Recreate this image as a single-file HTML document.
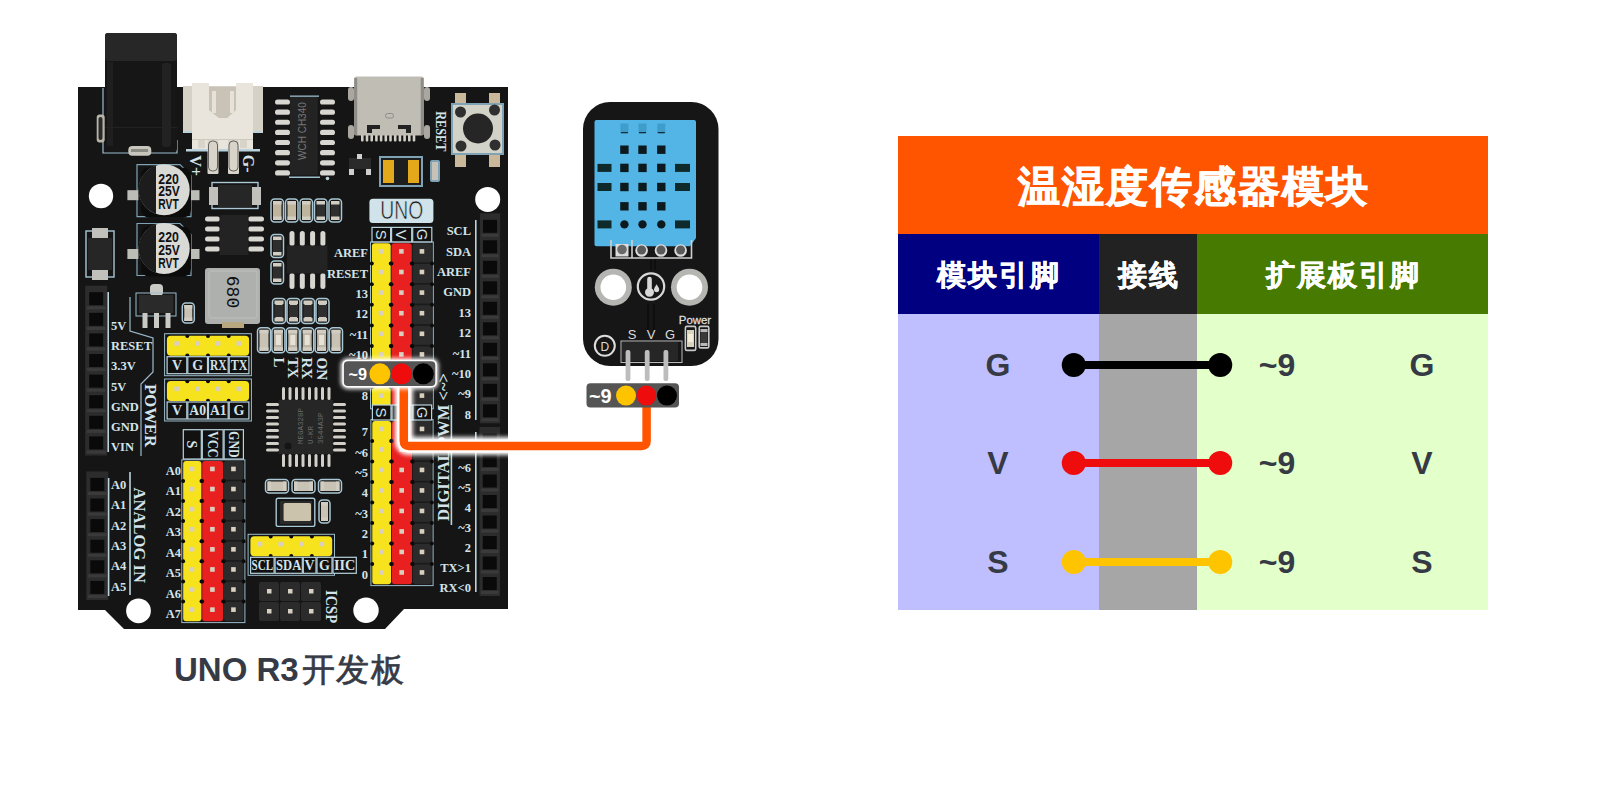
<!DOCTYPE html>
<html><head><meta charset="utf-8">
<style>
html,body{margin:0;padding:0;background:#fff;width:1601px;height:797px;overflow:hidden;font-family:"Liberation Sans",sans-serif;}
#art{position:absolute;left:0;top:0;}
.tbl{position:absolute;left:898px;top:136px;width:590px;height:474px;}
.c{position:absolute;display:flex;align-items:center;justify-content:center;}
.hd{color:#fff;font-weight:bold;}
.sh{padding-top:4px;box-sizing:border-box;-webkit-text-stroke:0.5px #fff;}
.bd{color:#363a45;font-weight:bold;font-size:30px;}
</style></head><body>
<svg id="art" width="1601" height="797" viewBox="0 0 1601 797">
<polygon points="78,87 508,87 508,609 404,609 385,629 124,629 105,610 78,610" fill="#151515"/>
<circle cx="101" cy="196" r="12.2" fill="#fff"/>
<circle cx="487.7" cy="199.4" r="12.5" fill="#fff"/>
<circle cx="138.5" cy="610.8" r="12.4" fill="#fff"/>
<circle cx="366" cy="610.2" r="12.7" fill="#fff"/>
<path d="M103,88 L103,153 L177,153 L177,140" fill="none" stroke="#9cbccb" stroke-width="1.2"/>
<rect x="96.7" y="114.6" width="8" height="28" rx="3" fill="#b8b5a8"/>
<rect x="98.5" y="117" width="4" height="23" rx="2" fill="#2a2a2a"/>
<rect x="105" y="33" width="72" height="118.5" rx="3" fill="#161616"/>
<rect x="105" y="33" width="72" height="28" rx="3" fill="#272727"/>
<rect x="107" y="62" width="6" height="84" fill="#1f1f1f"/>
<rect x="162" y="63" width="9" height="84" rx="3" fill="#222"/>
<rect x="105" y="127" width="72" height="1" fill="#222"/>
<rect x="128.3" y="146" width="23" height="9.8" rx="4" fill="#c8c6bd"/>
<rect x="131" y="149" width="17" height="3" fill="#8a8a85"/>
<rect x="183" y="86" width="80" height="47" fill="#d6d1c6"/>
<rect x="184" y="131" width="78" height="2" fill="#b9d3de"/>
<path d="M192,83 L209,83 L209,110 L219,118 L227,118 L236,110 L236,83 L253,83 L253,149 L192,149 Z" fill="#e9e5dd"/>
<path d="M209,87 L236,87 L236,110 L227,118 L219,118 L209,110 Z" fill="#c9c3b7"/>
<rect x="212" y="91" width="4" height="22" fill="#e6e2d8"/>
<rect x="230" y="91" width="4" height="22" fill="#e6e2d8"/>
<rect x="192" y="139" width="61" height="1" fill="#cfc9bd"/>
<rect x="198" y="140" width="7" height="8" fill="#d9d4ca"/>
<rect x="240" y="140" width="7" height="8" fill="#d9d4ca"/>
<text x="195.8" y="171.5" text-anchor="middle" font-family="Liberation Serif" font-weight="bold" font-size="16" fill="#d3e3ea" transform="rotate(90 195.8 165.7)">V+</text>
<text x="248.9" y="169.5" text-anchor="middle" font-family="Liberation Serif" font-weight="bold" font-size="16" fill="#d3e3ea" transform="rotate(90 248.9 163.7)">G-</text>
<rect x="186" y="149" width="74" height="2.5" fill="#b9d3de"/>
<rect x="207.5" y="140" width="11" height="34" rx="1" fill="#d9d4ca"/>
<rect x="228" y="140" width="11" height="34" rx="1" fill="#d9d4ca"/>
<rect x="208.5" y="141" width="9" height="30" rx="4" fill="none" stroke="#444" stroke-width="0.8"/>
<rect x="229" y="141" width="9" height="30" rx="4" fill="none" stroke="#444" stroke-width="0.8"/>
<rect x="275" y="99.4" width="15" height="5.2" rx="2.6" fill="#d8d6d0"/>
<rect x="320" y="99.4" width="15" height="5.2" rx="2.6" fill="#d8d6d0"/>
<rect x="275" y="109.53" width="15" height="5.2" rx="2.6" fill="#d8d6d0"/>
<rect x="320" y="109.53" width="15" height="5.2" rx="2.6" fill="#d8d6d0"/>
<rect x="275" y="119.66000000000001" width="15" height="5.2" rx="2.6" fill="#d8d6d0"/>
<rect x="320" y="119.66000000000001" width="15" height="5.2" rx="2.6" fill="#d8d6d0"/>
<rect x="275" y="129.79" width="15" height="5.2" rx="2.6" fill="#d8d6d0"/>
<rect x="320" y="129.79" width="15" height="5.2" rx="2.6" fill="#d8d6d0"/>
<rect x="275" y="139.92000000000002" width="15" height="5.2" rx="2.6" fill="#d8d6d0"/>
<rect x="320" y="139.92000000000002" width="15" height="5.2" rx="2.6" fill="#d8d6d0"/>
<rect x="275" y="150.05" width="15" height="5.2" rx="2.6" fill="#d8d6d0"/>
<rect x="320" y="150.05" width="15" height="5.2" rx="2.6" fill="#d8d6d0"/>
<rect x="275" y="160.18" width="15" height="5.2" rx="2.6" fill="#d8d6d0"/>
<rect x="320" y="160.18" width="15" height="5.2" rx="2.6" fill="#d8d6d0"/>
<rect x="275" y="170.31000000000003" width="15" height="5.2" rx="2.6" fill="#d8d6d0"/>
<rect x="320" y="170.31000000000003" width="15" height="5.2" rx="2.6" fill="#d8d6d0"/>
<rect x="290" y="97" width="27.7" height="78.3" fill="#232323"/>
<rect x="290" y="95.5" width="29" height="1.3" fill="#9cbccb"/>
<rect x="289" y="176.5" width="31" height="1.5" fill="#9cbccb"/>
<circle cx="327.5" cy="178.5" r="1.8" fill="#b9d3de"/>
<text x="306" y="160" font-family="Liberation Sans" font-size="10" fill="#777" transform="rotate(-90 306 160)">WCH CH340</text>
<rect x="348" y="87" width="6" height="14" rx="3" fill="#a9a7a0"/>
<rect x="424" y="87" width="6" height="14" rx="3" fill="#a9a7a0"/>
<rect x="348" y="125" width="6" height="14" rx="3" fill="#a9a7a0"/>
<rect x="424" y="125" width="6" height="14" rx="3" fill="#a9a7a0"/>
<rect x="361.0" y="134" width="2.6" height="7.5" rx="1" fill="#d2cfc6"/>
<rect x="365.7" y="134" width="2.6" height="7.5" rx="1" fill="#d2cfc6"/>
<rect x="370.4" y="134" width="2.6" height="7.5" rx="1" fill="#d2cfc6"/>
<rect x="375.1" y="134" width="2.6" height="7.5" rx="1" fill="#d2cfc6"/>
<rect x="379.8" y="134" width="2.6" height="7.5" rx="1" fill="#d2cfc6"/>
<rect x="384.5" y="134" width="2.6" height="7.5" rx="1" fill="#d2cfc6"/>
<rect x="389.2" y="134" width="2.6" height="7.5" rx="1" fill="#d2cfc6"/>
<rect x="393.9" y="134" width="2.6" height="7.5" rx="1" fill="#d2cfc6"/>
<rect x="398.6" y="134" width="2.6" height="7.5" rx="1" fill="#d2cfc6"/>
<rect x="403.3" y="134" width="2.6" height="7.5" rx="1" fill="#d2cfc6"/>
<rect x="408.0" y="134" width="2.6" height="7.5" rx="1" fill="#d2cfc6"/>
<rect x="412.7" y="134" width="2.6" height="7.5" rx="1" fill="#d2cfc6"/>
<rect x="354.2" y="76.5" width="69.5" height="59" rx="2" fill="#c0bdb5"/>
<rect x="354.2" y="78" width="3" height="57" fill="#8f8d88"/>
<rect x="420.7" y="78" width="3" height="57" fill="#8f8d88"/>
<path d="M367,125 L380,125 L380,129 L372,129 L372,133 L367,133 Z" fill="#222"/>
<path d="M398,125 L411,125 L411,133 L406,133 L406,129 L398,129 Z" fill="#222"/>
<rect x="385.5" y="113.5" width="8" height="4.5" rx="2" fill="none" stroke="#8f8d88" stroke-width="1"/>
<rect x="455" y="93" width="11" height="12" fill="#c9b89a"/>
<rect x="455" y="153" width="11" height="14" fill="#c9b89a"/>
<rect x="489" y="93" width="11" height="12" fill="#c9b89a"/>
<rect x="489" y="153" width="11" height="14" fill="#c9b89a"/>
<rect x="451" y="103" width="53" height="52" fill="#7fa3b5"/>
<rect x="453" y="105" width="49" height="48" fill="#d2d2c8"/>
<circle cx="478" cy="128.5" r="15" fill="#262626"/>
<circle cx="460.5" cy="112" r="5.5" fill="#2f2f2f"/>
<circle cx="494.5" cy="110" r="5.5" fill="#2f2f2f"/>
<circle cx="461" cy="146" r="5.5" fill="#2f2f2f"/>
<circle cx="495" cy="145" r="5.5" fill="#2f2f2f"/>
<text x="436.3" y="111.3" font-family="Liberation Serif" font-weight="bold" font-size="15" fill="#d3e3ea" transform="rotate(90 436.3 111.3)" textLength="40" lengthAdjust="spacingAndGlyphs">RESET</text>
<rect x="379" y="156" width="44" height="31" fill="#7fa3b5"/>
<rect x="381" y="158" width="40" height="27" fill="#1e1e1e"/>
<rect x="383" y="160" width="11" height="23" fill="#e3a91a"/>
<rect x="408" y="160" width="11" height="23" fill="#e3a91a"/>
<rect x="349" y="158" width="22" height="11" fill="#2a2a2a"/>
<rect x="357" y="154" width="5" height="5" fill="#cfcfcf"/>
<rect x="349" y="169" width="5" height="6" fill="#cfcfcf"/>
<rect x="366" y="169" width="5" height="6" fill="#cfcfcf"/>
<rect x="430" y="160" width="10" height="22" rx="2" fill="#7fa3b5"/>
<rect x="432" y="162" width="6" height="18" fill="#c6c2b8"/>
<path d="M137,164.7 L180,164.7 L191,175.7 L191,216.7 L137,216.7 Z" fill="none" stroke="#7fa3b5" stroke-width="1.2"/>
<rect x="127.4" y="190.2" width="11" height="10" fill="#bdbdb8"/>
<rect x="190" y="190.2" width="9.5" height="10" fill="#bdbdb8"/>
<rect x="141" y="167.7" width="50" height="50" rx="8" fill="#0c0c0c"/>
<circle cx="164.2" cy="189.7" r="25.5" fill="#d9d9d6"/>
<path d="M156,165.5 A25.5,25.5 0 0,0 156,213.89999999999998 Z" fill="#1c1c1c"/>
<text x="158.3" y="183.6" font-family="Liberation Sans" font-weight="bold" font-size="13.9" fill="#111" textLength="20.5" lengthAdjust="spacingAndGlyphs">220</text>
<text x="158.3" y="196.29999999999998" font-family="Liberation Sans" font-weight="bold" font-size="13.9" fill="#111" textLength="21.5" lengthAdjust="spacingAndGlyphs">25V</text>
<text x="158.3" y="209.0" font-family="Liberation Sans" font-weight="bold" font-size="13.9" fill="#111" textLength="20.5" lengthAdjust="spacingAndGlyphs">RVT</text>
<path d="M137,223.5 L180,223.5 L191,234.5 L191,275.5 L137,275.5 Z" fill="none" stroke="#7fa3b5" stroke-width="1.2"/>
<rect x="127.4" y="249.0" width="11" height="10" fill="#bdbdb8"/>
<rect x="190" y="249.0" width="9.5" height="10" fill="#bdbdb8"/>
<rect x="141" y="226.5" width="50" height="50" rx="8" fill="#0c0c0c"/>
<circle cx="164.2" cy="248.5" r="25.5" fill="#d9d9d6"/>
<path d="M156,224.3 A25.5,25.5 0 0,0 156,272.7 Z" fill="#1c1c1c"/>
<text x="158.3" y="242.4" font-family="Liberation Sans" font-weight="bold" font-size="13.9" fill="#111" textLength="20.5" lengthAdjust="spacingAndGlyphs">220</text>
<text x="158.3" y="255.1" font-family="Liberation Sans" font-weight="bold" font-size="13.9" fill="#111" textLength="21.5" lengthAdjust="spacingAndGlyphs">25V</text>
<text x="158.3" y="267.8" font-family="Liberation Sans" font-weight="bold" font-size="13.9" fill="#111" textLength="20.5" lengthAdjust="spacingAndGlyphs">RVT</text>
<rect x="212" y="182.5" width="46" height="26" fill="none" stroke="#a9c7d4" stroke-width="1.4"/>
<rect x="209" y="187" width="52" height="18" fill="#c2c0ba"/>
<rect x="218" y="185" width="34" height="22" fill="#262626"/>
<rect x="86" y="231" width="28" height="46" fill="none" stroke="#a9c7d4" stroke-width="1.4"/>
<rect x="92" y="228" width="16" height="52" fill="#c2c0ba"/>
<rect x="88" y="238" width="24" height="32" fill="#262626"/>
<rect x="205" y="216.5" width="15" height="5" rx="2.5" fill="#d8d6d0"/>
<rect x="248" y="216.5" width="16" height="5" rx="2.5" fill="#d8d6d0"/>
<rect x="205" y="226.5" width="15" height="5" rx="2.5" fill="#d8d6d0"/>
<rect x="248" y="226.5" width="16" height="5" rx="2.5" fill="#d8d6d0"/>
<rect x="205" y="236.5" width="15" height="5" rx="2.5" fill="#d8d6d0"/>
<rect x="248" y="236.5" width="16" height="5" rx="2.5" fill="#d8d6d0"/>
<rect x="205" y="246.5" width="15" height="5" rx="2.5" fill="#d8d6d0"/>
<rect x="248" y="246.5" width="16" height="5" rx="2.5" fill="#d8d6d0"/>
<rect x="219.5" y="215" width="29" height="40" fill="#232323"/>
<rect x="289.5" y="231" width="5" height="15" rx="2.5" fill="#d8d6d0"/>
<rect x="289.5" y="273" width="5" height="16" rx="2.5" fill="#d8d6d0"/>
<rect x="299.8" y="231" width="5" height="15" rx="2.5" fill="#d8d6d0"/>
<rect x="299.8" y="273" width="5" height="16" rx="2.5" fill="#d8d6d0"/>
<rect x="310.1" y="231" width="5" height="15" rx="2.5" fill="#d8d6d0"/>
<rect x="310.1" y="273" width="5" height="16" rx="2.5" fill="#d8d6d0"/>
<rect x="320.4" y="231" width="5" height="15" rx="2.5" fill="#d8d6d0"/>
<rect x="320.4" y="273" width="5" height="16" rx="2.5" fill="#d8d6d0"/>
<rect x="287" y="245.5" width="40.5" height="28" fill="#232323"/>
<rect x="271.0" y="199" width="12.5" height="23" rx="3.5" fill="none" stroke="#a9c7d4" stroke-width="1.5"/>
<rect x="273.0" y="201" width="8.5" height="19" fill="#bfb49c"/>
<rect x="273.0" y="201" width="8.5" height="3.5" fill="#d2cdc2"/>
<rect x="273.0" y="216.5" width="8.5" height="3.5" fill="#d2cdc2"/>
<rect x="285.5" y="199" width="12.5" height="23" rx="3.5" fill="none" stroke="#a9c7d4" stroke-width="1.5"/>
<rect x="287.5" y="201" width="8.5" height="19" fill="#bfb49c"/>
<rect x="287.5" y="201" width="8.5" height="3.5" fill="#d2cdc2"/>
<rect x="287.5" y="216.5" width="8.5" height="3.5" fill="#d2cdc2"/>
<rect x="300.0" y="199" width="12.5" height="23" rx="3.5" fill="none" stroke="#a9c7d4" stroke-width="1.5"/>
<rect x="302.0" y="201" width="8.5" height="19" fill="#bfb49c"/>
<rect x="302.0" y="201" width="8.5" height="3.5" fill="#d2cdc2"/>
<rect x="302.0" y="216.5" width="8.5" height="3.5" fill="#d2cdc2"/>
<rect x="314.5" y="199" width="12.5" height="23" rx="3.5" fill="none" stroke="#a9c7d4" stroke-width="1.5"/>
<rect x="316.5" y="201" width="8.5" height="19" fill="#2e2e2e"/>
<rect x="316.5" y="201" width="8.5" height="3.5" fill="#d2cdc2"/>
<rect x="316.5" y="216.5" width="8.5" height="3.5" fill="#d2cdc2"/>
<rect x="329.0" y="199" width="12.5" height="23" rx="3.5" fill="none" stroke="#a9c7d4" stroke-width="1.5"/>
<rect x="331.0" y="201" width="8.5" height="19" fill="#2e2e2e"/>
<rect x="331.0" y="201" width="8.5" height="3.5" fill="#d2cdc2"/>
<rect x="331.0" y="216.5" width="8.5" height="3.5" fill="#d2cdc2"/>
<rect x="271" y="234.5" width="12.5" height="23" rx="3.5" fill="none" stroke="#a9c7d4" stroke-width="1.5"/>
<rect x="273" y="236.5" width="8.5" height="19" fill="#2e2e2e"/>
<rect x="273" y="236.5" width="8.5" height="3.5" fill="#d2cdc2"/>
<rect x="273" y="252.0" width="8.5" height="3.5" fill="#d2cdc2"/>
<rect x="271" y="261" width="12.5" height="23" rx="3.5" fill="none" stroke="#a9c7d4" stroke-width="1.5"/>
<rect x="273" y="263" width="8.5" height="19" fill="#2e2e2e"/>
<rect x="273" y="263" width="8.5" height="3.5" fill="#d2cdc2"/>
<rect x="273" y="278.5" width="8.5" height="3.5" fill="#d2cdc2"/>
<rect x="272.5" y="298.5" width="13" height="25" rx="3.5" fill="none" stroke="#a9c7d4" stroke-width="1.5"/>
<rect x="274.5" y="300.5" width="9" height="21" fill="#2e2e2e"/>
<rect x="274.5" y="300.5" width="9" height="3.5" fill="#d2cdc2"/>
<rect x="274.5" y="318.0" width="9" height="3.5" fill="#d2cdc2"/>
<rect x="275.5" y="301.5" width="7" height="3.5" fill="#cfcabd"/>
<rect x="275.5" y="317" width="7" height="3.5" fill="#cfcabd"/>
<rect x="287.0" y="298.5" width="13" height="25" rx="3.5" fill="none" stroke="#a9c7d4" stroke-width="1.5"/>
<rect x="289.0" y="300.5" width="9" height="21" fill="#2e2e2e"/>
<rect x="289.0" y="300.5" width="9" height="3.5" fill="#d2cdc2"/>
<rect x="289.0" y="318.0" width="9" height="3.5" fill="#d2cdc2"/>
<rect x="290.0" y="301.5" width="7" height="3.5" fill="#cfcabd"/>
<rect x="290.0" y="317" width="7" height="3.5" fill="#cfcabd"/>
<rect x="301.5" y="298.5" width="13" height="25" rx="3.5" fill="none" stroke="#a9c7d4" stroke-width="1.5"/>
<rect x="303.5" y="300.5" width="9" height="21" fill="#2e2e2e"/>
<rect x="303.5" y="300.5" width="9" height="3.5" fill="#d2cdc2"/>
<rect x="303.5" y="318.0" width="9" height="3.5" fill="#d2cdc2"/>
<rect x="304.5" y="301.5" width="7" height="3.5" fill="#cfcabd"/>
<rect x="304.5" y="317" width="7" height="3.5" fill="#cfcabd"/>
<rect x="316.0" y="298.5" width="13" height="25" rx="3.5" fill="none" stroke="#a9c7d4" stroke-width="1.5"/>
<rect x="318.0" y="300.5" width="9" height="21" fill="#2e2e2e"/>
<rect x="318.0" y="300.5" width="9" height="3.5" fill="#d2cdc2"/>
<rect x="318.0" y="318.0" width="9" height="3.5" fill="#d2cdc2"/>
<rect x="319.0" y="301.5" width="7" height="3.5" fill="#cfcabd"/>
<rect x="319.0" y="317" width="7" height="3.5" fill="#cfcabd"/>
<rect x="257.5" y="327.8" width="13" height="25" rx="3.5" fill="none" stroke="#a9c7d4" stroke-width="1.5"/>
<rect x="259.5" y="329.8" width="9" height="21" fill="#c9c3b5"/>
<rect x="259.5" y="329.8" width="9" height="3.5" fill="#d2cdc2"/>
<rect x="259.5" y="347.3" width="9" height="3.5" fill="#d2cdc2"/>
<rect x="271.9" y="327.8" width="13" height="25" rx="3.5" fill="none" stroke="#a9c7d4" stroke-width="1.5"/>
<rect x="273.9" y="329.8" width="9" height="21" fill="#bdb6a6"/>
<rect x="273.9" y="329.8" width="9" height="3.5" fill="#d2cdc2"/>
<rect x="273.9" y="347.3" width="9" height="3.5" fill="#d2cdc2"/>
<rect x="275.9" y="335" width="5" height="10" fill="#e8e2d6"/>
<rect x="286.3" y="327.8" width="13" height="25" rx="3.5" fill="none" stroke="#a9c7d4" stroke-width="1.5"/>
<rect x="288.3" y="329.8" width="9" height="21" fill="#bdb6a6"/>
<rect x="288.3" y="329.8" width="9" height="3.5" fill="#d2cdc2"/>
<rect x="288.3" y="347.3" width="9" height="3.5" fill="#d2cdc2"/>
<rect x="290.3" y="335" width="5" height="10" fill="#e8e2d6"/>
<rect x="300.7" y="327.8" width="13" height="25" rx="3.5" fill="none" stroke="#a9c7d4" stroke-width="1.5"/>
<rect x="302.7" y="329.8" width="9" height="21" fill="#bdb6a6"/>
<rect x="302.7" y="329.8" width="9" height="3.5" fill="#d2cdc2"/>
<rect x="302.7" y="347.3" width="9" height="3.5" fill="#d2cdc2"/>
<rect x="304.7" y="335" width="5" height="10" fill="#e8e2d6"/>
<rect x="315.1" y="327.8" width="13" height="25" rx="3.5" fill="none" stroke="#a9c7d4" stroke-width="1.5"/>
<rect x="317.1" y="329.8" width="9" height="21" fill="#bdb6a6"/>
<rect x="317.1" y="329.8" width="9" height="3.5" fill="#d2cdc2"/>
<rect x="317.1" y="347.3" width="9" height="3.5" fill="#d2cdc2"/>
<rect x="319.1" y="335" width="5" height="10" fill="#e8e2d6"/>
<rect x="329.5" y="327.8" width="13" height="25" rx="3.5" fill="none" stroke="#a9c7d4" stroke-width="1.5"/>
<rect x="331.5" y="329.8" width="9" height="21" fill="#c9c3b5"/>
<rect x="331.5" y="329.8" width="9" height="3.5" fill="#d2cdc2"/>
<rect x="331.5" y="347.3" width="9" height="3.5" fill="#d2cdc2"/>
<text x="278.5" y="357.5" font-family="Liberation Serif" font-weight="bold" font-size="15" fill="#d3e3ea" transform="rotate(90 278.5 357.5) translate(0,5)">L</text>
<text x="292.9" y="357.5" font-family="Liberation Serif" font-weight="bold" font-size="15" fill="#d3e3ea" transform="rotate(90 292.9 357.5) translate(0,5)">TX</text>
<text x="307.3" y="357.5" font-family="Liberation Serif" font-weight="bold" font-size="15" fill="#d3e3ea" transform="rotate(90 307.3 357.5) translate(0,5)">RX</text>
<text x="321.7" y="357.5" font-family="Liberation Serif" font-weight="bold" font-size="15" fill="#d3e3ea" transform="rotate(90 321.7 357.5) translate(0,5)">ON</text>
<rect x="150" y="284" width="13" height="12" rx="4" fill="#c9c9c5"/>
<rect x="136" y="293" width="40" height="23" fill="none" stroke="#9cbccb" stroke-width="1"/>
<rect x="139" y="295" width="34.3" height="18.2" fill="#2a2a2a"/>
<rect x="142.5" y="313" width="5" height="15" fill="#c9c9c5"/>
<rect x="154" y="313" width="5" height="15" fill="#c9c9c5"/>
<rect x="165.5" y="313" width="5" height="15" fill="#c9c9c5"/>
<rect x="182.3" y="303" width="12" height="20" rx="3.5" fill="none" stroke="#a9c7d4" stroke-width="1.5"/>
<rect x="184.3" y="305" width="8" height="16" fill="#c9c3b5"/>
<rect x="184.3" y="305" width="8" height="3.5" fill="#d2cdc2"/>
<rect x="184.3" y="317.5" width="8" height="3.5" fill="#d2cdc2"/>
<path d="M130,297 L130,331 L153,338 L153,372 L141,384 L141,456" fill="none" stroke="#9cbccb" stroke-width="1.2"/>
<rect x="205" y="268" width="55" height="56" rx="3" fill="#adb0ad"/>
<rect x="222" y="322" width="22" height="6" fill="#b8a77f"/>
<rect x="209" y="271" width="48" height="47" rx="2" fill="none" stroke="#bdc0bd" stroke-width="1"/>
<text x="232.5" y="298" text-anchor="middle" font-family="Liberation Mono" font-size="18" fill="#111" transform="rotate(90 232.5 292)">680</text>
<rect x="369.4" y="198.7" width="64" height="24.4" rx="3.5" fill="#d0e3ea"/>
<text x="380.3" y="219.3" font-family="Liberation Sans" font-size="25" fill="#1a1a1a" textLength="43" lengthAdjust="spacingAndGlyphs" stroke="#d0e3ea" stroke-width="0.6">UNO</text>
<rect x="370.5" y="242" width="62.800000000000004" height="166.8" fill="none" stroke="#9cbccb" stroke-width="1"/>
<rect x="371.9" y="243.3" width="18.8" height="164.20000000000002" rx="3" fill="#f6e31d"/>
<circle cx="371.8" cy="263.6" r="2" fill="#0a0a0a"/>
<circle cx="390.8" cy="263.6" r="2" fill="#0a0a0a"/>
<circle cx="371.8" cy="284.2" r="2" fill="#0a0a0a"/>
<circle cx="390.8" cy="284.2" r="2" fill="#0a0a0a"/>
<circle cx="371.8" cy="304.8" r="2" fill="#0a0a0a"/>
<circle cx="390.8" cy="304.8" r="2" fill="#0a0a0a"/>
<circle cx="371.8" cy="325.4" r="2" fill="#0a0a0a"/>
<circle cx="390.8" cy="325.4" r="2" fill="#0a0a0a"/>
<circle cx="371.8" cy="346.0" r="2" fill="#0a0a0a"/>
<circle cx="390.8" cy="346.0" r="2" fill="#0a0a0a"/>
<circle cx="371.8" cy="366.6" r="2" fill="#0a0a0a"/>
<circle cx="390.8" cy="366.6" r="2" fill="#0a0a0a"/>
<circle cx="371.8" cy="387.20000000000005" r="2" fill="#0a0a0a"/>
<circle cx="390.8" cy="387.20000000000005" r="2" fill="#0a0a0a"/>
<rect x="378.7" y="249.10000000000002" width="4.6" height="4.6" fill="#d9cfbe"/>
<rect x="378.7" y="269.70000000000005" width="4.6" height="4.6" fill="#d9cfbe"/>
<rect x="378.7" y="290.3" width="4.6" height="4.6" fill="#d9cfbe"/>
<rect x="378.7" y="310.90000000000003" width="4.6" height="4.6" fill="#d9cfbe"/>
<rect x="378.7" y="331.5" width="4.6" height="4.6" fill="#d9cfbe"/>
<rect x="378.7" y="352.1" width="4.6" height="4.6" fill="#d9cfbe"/>
<rect x="378.7" y="372.70000000000005" width="4.6" height="4.6" fill="#d9cfbe"/>
<rect x="378.7" y="393.30000000000007" width="4.6" height="4.6" fill="#d9cfbe"/>
<rect x="391.5" y="243.3" width="20.3" height="164.20000000000002" rx="3" fill="#e8201f"/>
<circle cx="391.40000000000003" cy="263.6" r="2" fill="#0a0a0a"/>
<circle cx="411.90000000000003" cy="263.6" r="2" fill="#0a0a0a"/>
<circle cx="391.40000000000003" cy="284.2" r="2" fill="#0a0a0a"/>
<circle cx="411.90000000000003" cy="284.2" r="2" fill="#0a0a0a"/>
<circle cx="391.40000000000003" cy="304.8" r="2" fill="#0a0a0a"/>
<circle cx="411.90000000000003" cy="304.8" r="2" fill="#0a0a0a"/>
<circle cx="391.40000000000003" cy="325.4" r="2" fill="#0a0a0a"/>
<circle cx="411.90000000000003" cy="325.4" r="2" fill="#0a0a0a"/>
<circle cx="391.40000000000003" cy="346.0" r="2" fill="#0a0a0a"/>
<circle cx="411.90000000000003" cy="346.0" r="2" fill="#0a0a0a"/>
<circle cx="391.40000000000003" cy="366.6" r="2" fill="#0a0a0a"/>
<circle cx="411.90000000000003" cy="366.6" r="2" fill="#0a0a0a"/>
<circle cx="391.40000000000003" cy="387.20000000000005" r="2" fill="#0a0a0a"/>
<circle cx="411.90000000000003" cy="387.20000000000005" r="2" fill="#0a0a0a"/>
<rect x="399.05" y="249.10000000000002" width="4.6" height="4.6" fill="#d9cfbe"/>
<rect x="399.05" y="269.70000000000005" width="4.6" height="4.6" fill="#d9cfbe"/>
<rect x="399.05" y="290.3" width="4.6" height="4.6" fill="#d9cfbe"/>
<rect x="399.05" y="310.90000000000003" width="4.6" height="4.6" fill="#d9cfbe"/>
<rect x="399.05" y="331.5" width="4.6" height="4.6" fill="#d9cfbe"/>
<rect x="399.05" y="352.1" width="4.6" height="4.6" fill="#d9cfbe"/>
<rect x="399.05" y="372.70000000000005" width="4.6" height="4.6" fill="#d9cfbe"/>
<rect x="399.05" y="393.30000000000007" width="4.6" height="4.6" fill="#d9cfbe"/>
<rect x="412.6" y="243.3" width="19.3" height="164.20000000000002" rx="3" fill="#2b2b2b"/>
<circle cx="412.50000000000006" cy="263.6" r="2" fill="#0a0a0a"/>
<circle cx="432.00000000000006" cy="263.6" r="2" fill="#0a0a0a"/>
<rect x="414.20000000000005" y="262.40000000000003" width="16.1" height="1.6" fill="#1a1a1a"/>
<circle cx="412.50000000000006" cy="284.2" r="2" fill="#0a0a0a"/>
<circle cx="432.00000000000006" cy="284.2" r="2" fill="#0a0a0a"/>
<rect x="414.20000000000005" y="283.0" width="16.1" height="1.6" fill="#1a1a1a"/>
<circle cx="412.50000000000006" cy="304.8" r="2" fill="#0a0a0a"/>
<circle cx="432.00000000000006" cy="304.8" r="2" fill="#0a0a0a"/>
<rect x="414.20000000000005" y="303.6" width="16.1" height="1.6" fill="#1a1a1a"/>
<circle cx="412.50000000000006" cy="325.4" r="2" fill="#0a0a0a"/>
<circle cx="432.00000000000006" cy="325.4" r="2" fill="#0a0a0a"/>
<rect x="414.20000000000005" y="324.2" width="16.1" height="1.6" fill="#1a1a1a"/>
<circle cx="412.50000000000006" cy="346.0" r="2" fill="#0a0a0a"/>
<circle cx="432.00000000000006" cy="346.0" r="2" fill="#0a0a0a"/>
<rect x="414.20000000000005" y="344.8" width="16.1" height="1.6" fill="#1a1a1a"/>
<circle cx="412.50000000000006" cy="366.6" r="2" fill="#0a0a0a"/>
<circle cx="432.00000000000006" cy="366.6" r="2" fill="#0a0a0a"/>
<rect x="414.20000000000005" y="365.40000000000003" width="16.1" height="1.6" fill="#1a1a1a"/>
<circle cx="412.50000000000006" cy="387.20000000000005" r="2" fill="#0a0a0a"/>
<circle cx="432.00000000000006" cy="387.20000000000005" r="2" fill="#0a0a0a"/>
<rect x="414.20000000000005" y="386.00000000000006" width="16.1" height="1.6" fill="#1a1a1a"/>
<rect x="419.65000000000003" y="249.10000000000002" width="4.6" height="4.6" fill="#d9cfbe"/>
<rect x="419.65000000000003" y="269.70000000000005" width="4.6" height="4.6" fill="#d9cfbe"/>
<rect x="419.65000000000003" y="290.3" width="4.6" height="4.6" fill="#d9cfbe"/>
<rect x="419.65000000000003" y="310.90000000000003" width="4.6" height="4.6" fill="#d9cfbe"/>
<rect x="419.65000000000003" y="331.5" width="4.6" height="4.6" fill="#d9cfbe"/>
<rect x="419.65000000000003" y="352.1" width="4.6" height="4.6" fill="#d9cfbe"/>
<rect x="419.65000000000003" y="372.70000000000005" width="4.6" height="4.6" fill="#d9cfbe"/>
<rect x="419.65000000000003" y="393.30000000000007" width="4.6" height="4.6" fill="#d9cfbe"/>
<rect x="372.0" y="227.4" width="18.6" height="14.5" fill="#111" stroke="#b9d3de" stroke-width="1.2"/>
<text x="381.3" y="240.05" text-anchor="middle" font-family="Liberation Sans" font-size="15" fill="#d3e3ea" transform="rotate(90 381.3 234.65)">S</text>
<rect x="391.6" y="227.4" width="20.1" height="14.5" fill="#111" stroke="#b9d3de" stroke-width="1.2"/>
<text x="401.65000000000003" y="240.05" text-anchor="middle" font-family="Liberation Sans" font-size="15" fill="#d3e3ea" transform="rotate(90 401.65000000000003 234.65)">V</text>
<rect x="412.70000000000005" y="227.4" width="19.1" height="14.5" fill="#111" stroke="#b9d3de" stroke-width="1.2"/>
<text x="422.25000000000006" y="240.05" text-anchor="middle" font-family="Liberation Sans" font-size="15" fill="#d3e3ea" transform="rotate(90 422.25000000000006 234.65)">G</text>
<rect x="370.9" y="419.6" width="62.2" height="166.0" fill="none" stroke="#9cbccb" stroke-width="1"/>
<rect x="372.29999999999995" y="420.90000000000003" width="18.8" height="163.4" rx="3" fill="#f6e31d"/>
<circle cx="372.2" cy="441.1" r="2" fill="#0a0a0a"/>
<circle cx="391.2" cy="441.1" r="2" fill="#0a0a0a"/>
<circle cx="372.2" cy="461.6" r="2" fill="#0a0a0a"/>
<circle cx="391.2" cy="461.6" r="2" fill="#0a0a0a"/>
<circle cx="372.2" cy="482.1" r="2" fill="#0a0a0a"/>
<circle cx="391.2" cy="482.1" r="2" fill="#0a0a0a"/>
<circle cx="372.2" cy="502.6" r="2" fill="#0a0a0a"/>
<circle cx="391.2" cy="502.6" r="2" fill="#0a0a0a"/>
<circle cx="372.2" cy="523.1" r="2" fill="#0a0a0a"/>
<circle cx="391.2" cy="523.1" r="2" fill="#0a0a0a"/>
<circle cx="372.2" cy="543.6" r="2" fill="#0a0a0a"/>
<circle cx="391.2" cy="543.6" r="2" fill="#0a0a0a"/>
<circle cx="372.2" cy="564.1" r="2" fill="#0a0a0a"/>
<circle cx="391.2" cy="564.1" r="2" fill="#0a0a0a"/>
<rect x="379.09999999999997" y="426.65000000000003" width="4.6" height="4.6" fill="#d9cfbe"/>
<rect x="379.09999999999997" y="447.15000000000003" width="4.6" height="4.6" fill="#d9cfbe"/>
<rect x="379.09999999999997" y="467.65000000000003" width="4.6" height="4.6" fill="#d9cfbe"/>
<rect x="379.09999999999997" y="488.15000000000003" width="4.6" height="4.6" fill="#d9cfbe"/>
<rect x="379.09999999999997" y="508.65000000000003" width="4.6" height="4.6" fill="#d9cfbe"/>
<rect x="379.09999999999997" y="529.15" width="4.6" height="4.6" fill="#d9cfbe"/>
<rect x="379.09999999999997" y="549.65" width="4.6" height="4.6" fill="#d9cfbe"/>
<rect x="379.09999999999997" y="570.15" width="4.6" height="4.6" fill="#d9cfbe"/>
<rect x="391.9" y="420.90000000000003" width="20.2" height="163.4" rx="3" fill="#e8201f"/>
<circle cx="391.8" cy="441.1" r="2" fill="#0a0a0a"/>
<circle cx="412.2" cy="441.1" r="2" fill="#0a0a0a"/>
<circle cx="391.8" cy="461.6" r="2" fill="#0a0a0a"/>
<circle cx="412.2" cy="461.6" r="2" fill="#0a0a0a"/>
<circle cx="391.8" cy="482.1" r="2" fill="#0a0a0a"/>
<circle cx="412.2" cy="482.1" r="2" fill="#0a0a0a"/>
<circle cx="391.8" cy="502.6" r="2" fill="#0a0a0a"/>
<circle cx="412.2" cy="502.6" r="2" fill="#0a0a0a"/>
<circle cx="391.8" cy="523.1" r="2" fill="#0a0a0a"/>
<circle cx="412.2" cy="523.1" r="2" fill="#0a0a0a"/>
<circle cx="391.8" cy="543.6" r="2" fill="#0a0a0a"/>
<circle cx="412.2" cy="543.6" r="2" fill="#0a0a0a"/>
<circle cx="391.8" cy="564.1" r="2" fill="#0a0a0a"/>
<circle cx="412.2" cy="564.1" r="2" fill="#0a0a0a"/>
<rect x="399.4" y="426.65000000000003" width="4.6" height="4.6" fill="#d9cfbe"/>
<rect x="399.4" y="447.15000000000003" width="4.6" height="4.6" fill="#d9cfbe"/>
<rect x="399.4" y="467.65000000000003" width="4.6" height="4.6" fill="#d9cfbe"/>
<rect x="399.4" y="488.15000000000003" width="4.6" height="4.6" fill="#d9cfbe"/>
<rect x="399.4" y="508.65000000000003" width="4.6" height="4.6" fill="#d9cfbe"/>
<rect x="399.4" y="529.15" width="4.6" height="4.6" fill="#d9cfbe"/>
<rect x="399.4" y="549.65" width="4.6" height="4.6" fill="#d9cfbe"/>
<rect x="399.4" y="570.15" width="4.6" height="4.6" fill="#d9cfbe"/>
<rect x="412.9" y="420.90000000000003" width="18.8" height="163.4" rx="3" fill="#2b2b2b"/>
<circle cx="412.8" cy="441.1" r="2" fill="#0a0a0a"/>
<circle cx="431.8" cy="441.1" r="2" fill="#0a0a0a"/>
<rect x="414.5" y="439.90000000000003" width="15.600000000000001" height="1.6" fill="#1a1a1a"/>
<circle cx="412.8" cy="461.6" r="2" fill="#0a0a0a"/>
<circle cx="431.8" cy="461.6" r="2" fill="#0a0a0a"/>
<rect x="414.5" y="460.40000000000003" width="15.600000000000001" height="1.6" fill="#1a1a1a"/>
<circle cx="412.8" cy="482.1" r="2" fill="#0a0a0a"/>
<circle cx="431.8" cy="482.1" r="2" fill="#0a0a0a"/>
<rect x="414.5" y="480.90000000000003" width="15.600000000000001" height="1.6" fill="#1a1a1a"/>
<circle cx="412.8" cy="502.6" r="2" fill="#0a0a0a"/>
<circle cx="431.8" cy="502.6" r="2" fill="#0a0a0a"/>
<rect x="414.5" y="501.40000000000003" width="15.600000000000001" height="1.6" fill="#1a1a1a"/>
<circle cx="412.8" cy="523.1" r="2" fill="#0a0a0a"/>
<circle cx="431.8" cy="523.1" r="2" fill="#0a0a0a"/>
<rect x="414.5" y="521.9" width="15.600000000000001" height="1.6" fill="#1a1a1a"/>
<circle cx="412.8" cy="543.6" r="2" fill="#0a0a0a"/>
<circle cx="431.8" cy="543.6" r="2" fill="#0a0a0a"/>
<rect x="414.5" y="542.4" width="15.600000000000001" height="1.6" fill="#1a1a1a"/>
<circle cx="412.8" cy="564.1" r="2" fill="#0a0a0a"/>
<circle cx="431.8" cy="564.1" r="2" fill="#0a0a0a"/>
<rect x="414.5" y="562.9" width="15.600000000000001" height="1.6" fill="#1a1a1a"/>
<rect x="419.7" y="426.65000000000003" width="4.6" height="4.6" fill="#d9cfbe"/>
<rect x="419.7" y="447.15000000000003" width="4.6" height="4.6" fill="#d9cfbe"/>
<rect x="419.7" y="467.65000000000003" width="4.6" height="4.6" fill="#d9cfbe"/>
<rect x="419.7" y="488.15000000000003" width="4.6" height="4.6" fill="#d9cfbe"/>
<rect x="419.7" y="508.65000000000003" width="4.6" height="4.6" fill="#d9cfbe"/>
<rect x="419.7" y="529.15" width="4.6" height="4.6" fill="#d9cfbe"/>
<rect x="419.7" y="549.65" width="4.6" height="4.6" fill="#d9cfbe"/>
<rect x="419.7" y="570.15" width="4.6" height="4.6" fill="#d9cfbe"/>
<rect x="372.4" y="405.0" width="18.6" height="15" fill="#111" stroke="#b9d3de" stroke-width="1.2"/>
<text x="381.7" y="417.9" text-anchor="middle" font-family="Liberation Sans" font-size="15" fill="#d3e3ea" transform="rotate(90 381.7 412.5)">S</text>
<rect x="392.0" y="405.0" width="20.0" height="15" fill="#111" stroke="#b9d3de" stroke-width="1.2"/>
<text x="402.0" y="417.9" text-anchor="middle" font-family="Liberation Sans" font-size="15" fill="#d3e3ea" transform="rotate(90 402.0 412.5)"></text>
<rect x="413.0" y="405.0" width="18.6" height="15" fill="#111" stroke="#b9d3de" stroke-width="1.2"/>
<text x="422.3" y="417.9" text-anchor="middle" font-family="Liberation Sans" font-size="15" fill="#d3e3ea" transform="rotate(90 422.3 412.5)">G</text>
<rect x="181.8" y="459.8" width="63.1" height="162.8" fill="none" stroke="#9cbccb" stroke-width="1"/>
<rect x="183.20000000000002" y="461.1" width="18.2" height="160.20000000000002" rx="3" fill="#f6e31d"/>
<circle cx="183.10000000000002" cy="480.90000000000003" r="2" fill="#0a0a0a"/>
<circle cx="201.5" cy="480.90000000000003" r="2" fill="#0a0a0a"/>
<circle cx="183.10000000000002" cy="501.0" r="2" fill="#0a0a0a"/>
<circle cx="201.5" cy="501.0" r="2" fill="#0a0a0a"/>
<circle cx="183.10000000000002" cy="521.1" r="2" fill="#0a0a0a"/>
<circle cx="201.5" cy="521.1" r="2" fill="#0a0a0a"/>
<circle cx="183.10000000000002" cy="541.2" r="2" fill="#0a0a0a"/>
<circle cx="201.5" cy="541.2" r="2" fill="#0a0a0a"/>
<circle cx="183.10000000000002" cy="561.3" r="2" fill="#0a0a0a"/>
<circle cx="201.5" cy="561.3" r="2" fill="#0a0a0a"/>
<circle cx="183.10000000000002" cy="581.4" r="2" fill="#0a0a0a"/>
<circle cx="201.5" cy="581.4" r="2" fill="#0a0a0a"/>
<circle cx="183.10000000000002" cy="601.5" r="2" fill="#0a0a0a"/>
<circle cx="201.5" cy="601.5" r="2" fill="#0a0a0a"/>
<rect x="189.70000000000002" y="466.65000000000003" width="4.6" height="4.6" fill="#d9cfbe"/>
<rect x="189.70000000000002" y="486.75000000000006" width="4.6" height="4.6" fill="#d9cfbe"/>
<rect x="189.70000000000002" y="506.85" width="4.6" height="4.6" fill="#d9cfbe"/>
<rect x="189.70000000000002" y="526.9499999999999" width="4.6" height="4.6" fill="#d9cfbe"/>
<rect x="189.70000000000002" y="547.05" width="4.6" height="4.6" fill="#d9cfbe"/>
<rect x="189.70000000000002" y="567.1499999999999" width="4.6" height="4.6" fill="#d9cfbe"/>
<rect x="189.70000000000002" y="587.2499999999999" width="4.6" height="4.6" fill="#d9cfbe"/>
<rect x="189.70000000000002" y="607.3499999999999" width="4.6" height="4.6" fill="#d9cfbe"/>
<rect x="202.20000000000002" y="461.1" width="21.0" height="160.20000000000002" rx="3" fill="#e8201f"/>
<circle cx="202.10000000000002" cy="480.90000000000003" r="2" fill="#0a0a0a"/>
<circle cx="223.3" cy="480.90000000000003" r="2" fill="#0a0a0a"/>
<circle cx="202.10000000000002" cy="501.0" r="2" fill="#0a0a0a"/>
<circle cx="223.3" cy="501.0" r="2" fill="#0a0a0a"/>
<circle cx="202.10000000000002" cy="521.1" r="2" fill="#0a0a0a"/>
<circle cx="223.3" cy="521.1" r="2" fill="#0a0a0a"/>
<circle cx="202.10000000000002" cy="541.2" r="2" fill="#0a0a0a"/>
<circle cx="223.3" cy="541.2" r="2" fill="#0a0a0a"/>
<circle cx="202.10000000000002" cy="561.3" r="2" fill="#0a0a0a"/>
<circle cx="223.3" cy="561.3" r="2" fill="#0a0a0a"/>
<circle cx="202.10000000000002" cy="581.4" r="2" fill="#0a0a0a"/>
<circle cx="223.3" cy="581.4" r="2" fill="#0a0a0a"/>
<circle cx="202.10000000000002" cy="601.5" r="2" fill="#0a0a0a"/>
<circle cx="223.3" cy="601.5" r="2" fill="#0a0a0a"/>
<rect x="210.10000000000002" y="466.65000000000003" width="4.6" height="4.6" fill="#d9cfbe"/>
<rect x="210.10000000000002" y="486.75000000000006" width="4.6" height="4.6" fill="#d9cfbe"/>
<rect x="210.10000000000002" y="506.85" width="4.6" height="4.6" fill="#d9cfbe"/>
<rect x="210.10000000000002" y="526.9499999999999" width="4.6" height="4.6" fill="#d9cfbe"/>
<rect x="210.10000000000002" y="547.05" width="4.6" height="4.6" fill="#d9cfbe"/>
<rect x="210.10000000000002" y="567.1499999999999" width="4.6" height="4.6" fill="#d9cfbe"/>
<rect x="210.10000000000002" y="587.2499999999999" width="4.6" height="4.6" fill="#d9cfbe"/>
<rect x="210.10000000000002" y="607.3499999999999" width="4.6" height="4.6" fill="#d9cfbe"/>
<rect x="224.00000000000003" y="461.1" width="19.5" height="160.20000000000002" rx="3" fill="#2b2b2b"/>
<circle cx="223.90000000000003" cy="480.90000000000003" r="2" fill="#0a0a0a"/>
<circle cx="243.60000000000002" cy="480.90000000000003" r="2" fill="#0a0a0a"/>
<rect x="225.60000000000002" y="479.70000000000005" width="16.3" height="1.6" fill="#1a1a1a"/>
<circle cx="223.90000000000003" cy="501.0" r="2" fill="#0a0a0a"/>
<circle cx="243.60000000000002" cy="501.0" r="2" fill="#0a0a0a"/>
<rect x="225.60000000000002" y="499.8" width="16.3" height="1.6" fill="#1a1a1a"/>
<circle cx="223.90000000000003" cy="521.1" r="2" fill="#0a0a0a"/>
<circle cx="243.60000000000002" cy="521.1" r="2" fill="#0a0a0a"/>
<rect x="225.60000000000002" y="519.9" width="16.3" height="1.6" fill="#1a1a1a"/>
<circle cx="223.90000000000003" cy="541.2" r="2" fill="#0a0a0a"/>
<circle cx="243.60000000000002" cy="541.2" r="2" fill="#0a0a0a"/>
<rect x="225.60000000000002" y="540.0" width="16.3" height="1.6" fill="#1a1a1a"/>
<circle cx="223.90000000000003" cy="561.3" r="2" fill="#0a0a0a"/>
<circle cx="243.60000000000002" cy="561.3" r="2" fill="#0a0a0a"/>
<rect x="225.60000000000002" y="560.0999999999999" width="16.3" height="1.6" fill="#1a1a1a"/>
<circle cx="223.90000000000003" cy="581.4" r="2" fill="#0a0a0a"/>
<circle cx="243.60000000000002" cy="581.4" r="2" fill="#0a0a0a"/>
<rect x="225.60000000000002" y="580.1999999999999" width="16.3" height="1.6" fill="#1a1a1a"/>
<circle cx="223.90000000000003" cy="601.5" r="2" fill="#0a0a0a"/>
<circle cx="243.60000000000002" cy="601.5" r="2" fill="#0a0a0a"/>
<rect x="225.60000000000002" y="600.3" width="16.3" height="1.6" fill="#1a1a1a"/>
<rect x="231.15000000000003" y="466.65000000000003" width="4.6" height="4.6" fill="#d9cfbe"/>
<rect x="231.15000000000003" y="486.75000000000006" width="4.6" height="4.6" fill="#d9cfbe"/>
<rect x="231.15000000000003" y="506.85" width="4.6" height="4.6" fill="#d9cfbe"/>
<rect x="231.15000000000003" y="526.9499999999999" width="4.6" height="4.6" fill="#d9cfbe"/>
<rect x="231.15000000000003" y="547.05" width="4.6" height="4.6" fill="#d9cfbe"/>
<rect x="231.15000000000003" y="567.1499999999999" width="4.6" height="4.6" fill="#d9cfbe"/>
<rect x="231.15000000000003" y="587.2499999999999" width="4.6" height="4.6" fill="#d9cfbe"/>
<rect x="231.15000000000003" y="607.3499999999999" width="4.6" height="4.6" fill="#d9cfbe"/>
<rect x="183.3" y="429.7" width="18.0" height="29.3" fill="#111" stroke="#b9d3de" stroke-width="1.2"/>
<text x="192.3" y="449.39" text-anchor="middle" font-family="Liberation Serif" font-weight="bold" font-size="14" fill="#d3e3ea" transform="rotate(90 192.3 444.34999999999997)">S</text>
<rect x="202.3" y="429.7" width="20.8" height="29.3" fill="#111" stroke="#b9d3de" stroke-width="1.2"/>
<text x="212.70000000000002" y="449.39" text-anchor="middle" font-family="Liberation Serif" font-weight="bold" font-size="14" fill="#d3e3ea" transform="rotate(90 212.70000000000002 444.34999999999997)" textLength="26.3" lengthAdjust="spacingAndGlyphs">VCC</text>
<rect x="224.10000000000002" y="429.7" width="19.3" height="29.3" fill="#111" stroke="#b9d3de" stroke-width="1.2"/>
<text x="233.75000000000003" y="449.39" text-anchor="middle" font-family="Liberation Serif" font-weight="bold" font-size="14" fill="#d3e3ea" transform="rotate(90 233.75000000000003 444.34999999999997)" textLength="26.3" lengthAdjust="spacingAndGlyphs">GND</text>
<rect x="166.9" y="335.7" width="82.2" height="20" rx="4" fill="#f6e31d"/>
<rect x="174.35" y="341.2" width="4.6" height="4.6" fill="#d9cfbe"/>
<circle cx="187.29999999999998" cy="336.0" r="2" fill="#0a0a0a"/>
<circle cx="187.29999999999998" cy="355.4" r="2" fill="#0a0a0a"/>
<rect x="195.04999999999998" y="341.2" width="4.6" height="4.6" fill="#d9cfbe"/>
<circle cx="208.0" cy="336.0" r="2" fill="#0a0a0a"/>
<circle cx="208.0" cy="355.4" r="2" fill="#0a0a0a"/>
<rect x="215.75" y="341.2" width="4.6" height="4.6" fill="#d9cfbe"/>
<circle cx="228.7" cy="336.0" r="2" fill="#0a0a0a"/>
<circle cx="228.7" cy="355.4" r="2" fill="#0a0a0a"/>
<rect x="236.45" y="341.2" width="4.6" height="4.6" fill="#d9cfbe"/>
<rect x="164.6" y="333.7" width="86.8" height="42" fill="none" stroke="#9cbccb" stroke-width="1"/>
<rect x="167.1" y="356.7" width="19.7" height="17" fill="#111" stroke="#b9d3de" stroke-width="1.2"/>
<text x="176.95" y="370.09999999999997" text-anchor="middle" font-family="Liberation Serif" font-weight="bold" font-size="14" fill="#d3e3ea">V</text>
<rect x="187.79999999999998" y="356.7" width="19.7" height="17" fill="#111" stroke="#b9d3de" stroke-width="1.2"/>
<text x="197.64999999999998" y="370.09999999999997" text-anchor="middle" font-family="Liberation Serif" font-weight="bold" font-size="14" fill="#d3e3ea">G</text>
<rect x="208.49999999999997" y="356.7" width="19.7" height="17" fill="#111" stroke="#b9d3de" stroke-width="1.2"/>
<text x="218.34999999999997" y="370.09999999999997" text-anchor="middle" font-family="Liberation Serif" font-weight="bold" font-size="14" fill="#d3e3ea" textLength="16.7" lengthAdjust="spacingAndGlyphs">RX</text>
<rect x="229.19999999999996" y="356.7" width="19.7" height="17" fill="#111" stroke="#b9d3de" stroke-width="1.2"/>
<text x="239.04999999999995" y="370.09999999999997" text-anchor="middle" font-family="Liberation Serif" font-weight="bold" font-size="14" fill="#d3e3ea" textLength="16.7" lengthAdjust="spacingAndGlyphs">TX</text>
<rect x="166.9" y="381" width="82.2" height="20" rx="4" fill="#f6e31d"/>
<rect x="174.35" y="386.5" width="4.6" height="4.6" fill="#d9cfbe"/>
<circle cx="187.29999999999998" cy="381.3" r="2" fill="#0a0a0a"/>
<circle cx="187.29999999999998" cy="400.7" r="2" fill="#0a0a0a"/>
<rect x="195.04999999999998" y="386.5" width="4.6" height="4.6" fill="#d9cfbe"/>
<circle cx="208.0" cy="381.3" r="2" fill="#0a0a0a"/>
<circle cx="208.0" cy="400.7" r="2" fill="#0a0a0a"/>
<rect x="215.75" y="386.5" width="4.6" height="4.6" fill="#d9cfbe"/>
<circle cx="228.7" cy="381.3" r="2" fill="#0a0a0a"/>
<circle cx="228.7" cy="400.7" r="2" fill="#0a0a0a"/>
<rect x="236.45" y="386.5" width="4.6" height="4.6" fill="#d9cfbe"/>
<rect x="164.6" y="379" width="86.8" height="42" fill="none" stroke="#9cbccb" stroke-width="1"/>
<rect x="167.1" y="402.0" width="19.7" height="17" fill="#111" stroke="#b9d3de" stroke-width="1.2"/>
<text x="176.95" y="415.4" text-anchor="middle" font-family="Liberation Serif" font-weight="bold" font-size="14" fill="#d3e3ea">V</text>
<rect x="187.79999999999998" y="402.0" width="19.7" height="17" fill="#111" stroke="#b9d3de" stroke-width="1.2"/>
<text x="197.64999999999998" y="415.4" text-anchor="middle" font-family="Liberation Serif" font-weight="bold" font-size="14" fill="#d3e3ea" textLength="16.7" lengthAdjust="spacingAndGlyphs">A0</text>
<rect x="208.49999999999997" y="402.0" width="19.7" height="17" fill="#111" stroke="#b9d3de" stroke-width="1.2"/>
<text x="218.34999999999997" y="415.4" text-anchor="middle" font-family="Liberation Serif" font-weight="bold" font-size="14" fill="#d3e3ea" textLength="16.7" lengthAdjust="spacingAndGlyphs">A1</text>
<rect x="229.19999999999996" y="402.0" width="19.7" height="17" fill="#111" stroke="#b9d3de" stroke-width="1.2"/>
<text x="239.04999999999995" y="415.4" text-anchor="middle" font-family="Liberation Serif" font-weight="bold" font-size="14" fill="#d3e3ea">G</text>
<rect x="250.4" y="536.3" width="81.80000000000001" height="20" rx="4" fill="#f6e31d"/>
<rect x="257.79999999999995" y="541.8" width="4.6" height="4.6" fill="#d9cfbe"/>
<circle cx="270.7" cy="536.5999999999999" r="2" fill="#0a0a0a"/>
<circle cx="270.7" cy="556.0" r="2" fill="#0a0a0a"/>
<rect x="278.4" y="541.8" width="4.6" height="4.6" fill="#d9cfbe"/>
<circle cx="291.3" cy="536.5999999999999" r="2" fill="#0a0a0a"/>
<circle cx="291.3" cy="556.0" r="2" fill="#0a0a0a"/>
<rect x="299.0" y="541.8" width="4.6" height="4.6" fill="#d9cfbe"/>
<circle cx="311.9" cy="536.5999999999999" r="2" fill="#0a0a0a"/>
<circle cx="311.9" cy="556.0" r="2" fill="#0a0a0a"/>
<rect x="319.59999999999997" y="541.8" width="4.6" height="4.6" fill="#d9cfbe"/>
<rect x="248.1" y="534.3" width="86.4" height="41" fill="none" stroke="#9cbccb" stroke-width="1"/>
<rect x="250.6" y="557.3" width="23.5" height="16" fill="#111" stroke="#b9d3de" stroke-width="1.2"/>
<text x="262.35" y="570.1999999999999" text-anchor="middle" font-family="Liberation Serif" font-weight="bold" font-size="14" fill="#d3e3ea" textLength="21.5" lengthAdjust="spacingAndGlyphs">SCL</text>
<rect x="275.1" y="557.3" width="27.2" height="16" fill="#111" stroke="#b9d3de" stroke-width="1.2"/>
<text x="288.70000000000005" y="570.1999999999999" text-anchor="middle" font-family="Liberation Serif" font-weight="bold" font-size="14" fill="#d3e3ea" textLength="25.2" lengthAdjust="spacingAndGlyphs">SDA</text>
<rect x="303.3" y="557.3" width="12.7" height="16" fill="#111" stroke="#b9d3de" stroke-width="1.2"/>
<text x="309.65000000000003" y="570.1999999999999" text-anchor="middle" font-family="Liberation Serif" font-weight="bold" font-size="14" fill="#d3e3ea">V</text>
<rect x="317.0" y="557.3" width="15" height="16" fill="#111" stroke="#b9d3de" stroke-width="1.2"/>
<text x="324.5" y="570.1999999999999" text-anchor="middle" font-family="Liberation Serif" font-weight="bold" font-size="14" fill="#d3e3ea">G</text>
<rect x="333.0" y="557.3" width="23.3" height="16" fill="#111" stroke="#b9d3de" stroke-width="1.2"/>
<text x="344.65" y="570.1999999999999" text-anchor="middle" font-family="Liberation Serif" font-weight="bold" font-size="14" fill="#d3e3ea" textLength="21.3" lengthAdjust="spacingAndGlyphs">IIC</text>
<rect x="259" y="582" width="20" height="19" rx="2" fill="#2b2b2b"/>
<rect x="267" y="589" width="4.5" height="4.5" fill="#d6d0c4"/>
<rect x="280" y="582" width="20" height="19" rx="2" fill="#2b2b2b"/>
<rect x="288" y="589" width="4.5" height="4.5" fill="#d6d0c4"/>
<rect x="301" y="582" width="20" height="19" rx="2" fill="#2b2b2b"/>
<rect x="309" y="589" width="4.5" height="4.5" fill="#d6d0c4"/>
<rect x="259" y="602" width="20" height="19" rx="2" fill="#2b2b2b"/>
<rect x="267" y="609" width="4.5" height="4.5" fill="#d6d0c4"/>
<rect x="280" y="602" width="20" height="19" rx="2" fill="#2b2b2b"/>
<rect x="288" y="609" width="4.5" height="4.5" fill="#d6d0c4"/>
<rect x="301" y="602" width="20" height="19" rx="2" fill="#2b2b2b"/>
<rect x="309" y="609" width="4.5" height="4.5" fill="#d6d0c4"/>
<text x="326" y="590" font-family="Liberation Serif" font-weight="bold" font-size="16" fill="#d3e3ea" transform="rotate(90 326 590)" textLength="33" lengthAdjust="spacingAndGlyphs">ICSP</text>
<rect x="266" y="403.0" width="13" height="3" rx="1.5" fill="#d2cfc8"/>
<rect x="333" y="403.0" width="13" height="3" rx="1.5" fill="#d2cfc8"/>
<rect x="266" y="409.5" width="13" height="3" rx="1.5" fill="#d2cfc8"/>
<rect x="333" y="409.5" width="13" height="3" rx="1.5" fill="#d2cfc8"/>
<rect x="266" y="416.0" width="13" height="3" rx="1.5" fill="#d2cfc8"/>
<rect x="333" y="416.0" width="13" height="3" rx="1.5" fill="#d2cfc8"/>
<rect x="266" y="422.5" width="13" height="3" rx="1.5" fill="#d2cfc8"/>
<rect x="333" y="422.5" width="13" height="3" rx="1.5" fill="#d2cfc8"/>
<rect x="266" y="429.0" width="13" height="3" rx="1.5" fill="#d2cfc8"/>
<rect x="333" y="429.0" width="13" height="3" rx="1.5" fill="#d2cfc8"/>
<rect x="266" y="435.5" width="13" height="3" rx="1.5" fill="#d2cfc8"/>
<rect x="333" y="435.5" width="13" height="3" rx="1.5" fill="#d2cfc8"/>
<rect x="266" y="442.0" width="13" height="3" rx="1.5" fill="#d2cfc8"/>
<rect x="333" y="442.0" width="13" height="3" rx="1.5" fill="#d2cfc8"/>
<rect x="266" y="448.5" width="13" height="3" rx="1.5" fill="#d2cfc8"/>
<rect x="333" y="448.5" width="13" height="3" rx="1.5" fill="#d2cfc8"/>
<rect x="282.0" y="387" width="3" height="13" rx="1.5" fill="#d2cfc8"/>
<rect x="282.0" y="454" width="3" height="13" rx="1.5" fill="#d2cfc8"/>
<rect x="288.5" y="387" width="3" height="13" rx="1.5" fill="#d2cfc8"/>
<rect x="288.5" y="454" width="3" height="13" rx="1.5" fill="#d2cfc8"/>
<rect x="295.0" y="387" width="3" height="13" rx="1.5" fill="#d2cfc8"/>
<rect x="295.0" y="454" width="3" height="13" rx="1.5" fill="#d2cfc8"/>
<rect x="301.5" y="387" width="3" height="13" rx="1.5" fill="#d2cfc8"/>
<rect x="301.5" y="454" width="3" height="13" rx="1.5" fill="#d2cfc8"/>
<rect x="308.0" y="387" width="3" height="13" rx="1.5" fill="#d2cfc8"/>
<rect x="308.0" y="454" width="3" height="13" rx="1.5" fill="#d2cfc8"/>
<rect x="314.5" y="387" width="3" height="13" rx="1.5" fill="#d2cfc8"/>
<rect x="314.5" y="454" width="3" height="13" rx="1.5" fill="#d2cfc8"/>
<rect x="321.0" y="387" width="3" height="13" rx="1.5" fill="#d2cfc8"/>
<rect x="321.0" y="454" width="3" height="13" rx="1.5" fill="#d2cfc8"/>
<rect x="327.5" y="387" width="3" height="13" rx="1.5" fill="#d2cfc8"/>
<rect x="327.5" y="454" width="3" height="13" rx="1.5" fill="#d2cfc8"/>
<rect x="279" y="400" width="54" height="54" fill="#262626"/>
<circle cx="288" cy="446" r="3.6" fill="#151515"/>
<text x="303" y="444" font-family="Liberation Mono" font-size="7.5" fill="#6a6a6a" transform="rotate(-90 303 444)">MEGA328P</text>
<text x="313" y="444" font-family="Liberation Mono" font-size="7.5" fill="#6a6a6a" transform="rotate(-90 313 444)">U-KR</text>
<text x="323" y="444" font-family="Liberation Mono" font-size="7.5" fill="#6a6a6a" transform="rotate(-90 323 444)">3544A3P</text>
<rect x="265.5" y="479.5" width="23" height="13.5" rx="3.5" fill="none" stroke="#a9c7d4" stroke-width="1.5"/>
<rect x="267.5" y="481.5" width="19" height="9.5" fill="#c9c3b5"/>
<rect x="267.5" y="481.5" width="3.5" height="9.5" fill="#d2cdc2"/>
<rect x="283.0" y="481.5" width="3.5" height="9.5" fill="#d2cdc2"/>
<rect x="292" y="479.5" width="23" height="13.5" rx="3.5" fill="none" stroke="#a9c7d4" stroke-width="1.5"/>
<rect x="294" y="481.5" width="19" height="9.5" fill="#c9c3b5"/>
<rect x="294" y="481.5" width="3.5" height="9.5" fill="#d2cdc2"/>
<rect x="309.5" y="481.5" width="3.5" height="9.5" fill="#d2cdc2"/>
<rect x="318.5" y="479.5" width="23" height="13.5" rx="3.5" fill="none" stroke="#a9c7d4" stroke-width="1.5"/>
<rect x="320.5" y="481.5" width="19" height="9.5" fill="#c9c3b5"/>
<rect x="320.5" y="481.5" width="3.5" height="9.5" fill="#d2cdc2"/>
<rect x="336.0" y="481.5" width="3.5" height="9.5" fill="#d2cdc2"/>
<rect x="276.2" y="498.2" width="38.6" height="28.2" rx="2" fill="none" stroke="#a9c7d4" stroke-width="1.4"/>
<rect x="280" y="501" width="32" height="23" fill="#2a2a2a"/>
<rect x="283.6" y="503" width="27.4" height="18" rx="1.5" fill="#cbc3ab"/>
<rect x="319" y="500" width="11" height="23" rx="3.5" fill="none" stroke="#a9c7d4" stroke-width="1.5"/>
<rect x="321" y="502" width="7" height="19" fill="#c9c3b5"/>
<rect x="321" y="502" width="7" height="3.5" fill="#d2cdc2"/>
<rect x="321" y="517.5" width="7" height="3.5" fill="#d2cdc2"/>
<rect x="85.2" y="285.7" width="22" height="169.8" fill="#2c2c2c"/>
<rect x="86.7" y="306.3" width="19" height="3" fill="#3a3a3a"/>
<rect x="89.2" y="292.2" width="14" height="13" fill="#0a0a0a"/>
<rect x="86.7" y="326.90000000000003" width="19" height="3" fill="#3a3a3a"/>
<rect x="89.2" y="312.8" width="14" height="13" fill="#0a0a0a"/>
<rect x="86.7" y="347.5" width="19" height="3" fill="#3a3a3a"/>
<rect x="89.2" y="333.4" width="14" height="13" fill="#0a0a0a"/>
<rect x="86.7" y="368.1" width="19" height="3" fill="#3a3a3a"/>
<rect x="89.2" y="354.0" width="14" height="13" fill="#0a0a0a"/>
<rect x="86.7" y="388.70000000000005" width="19" height="3" fill="#3a3a3a"/>
<rect x="89.2" y="374.6" width="14" height="13" fill="#0a0a0a"/>
<rect x="86.7" y="409.3" width="19" height="3" fill="#3a3a3a"/>
<rect x="89.2" y="395.2" width="14" height="13" fill="#0a0a0a"/>
<rect x="86.7" y="429.90000000000003" width="19" height="3" fill="#3a3a3a"/>
<rect x="89.2" y="415.8" width="14" height="13" fill="#0a0a0a"/>
<rect x="86.7" y="450.5" width="19" height="3" fill="#3a3a3a"/>
<rect x="89.2" y="436.4" width="14" height="13" fill="#0a0a0a"/>
<rect x="107.4" y="292" width="1.6" height="160" fill="#b9d3de"/>
<rect x="86.3" y="471.4" width="22" height="128.60000000000002" fill="#2c2c2c"/>
<rect x="87.8" y="492.0" width="19" height="3" fill="#3a3a3a"/>
<rect x="90.3" y="477.9" width="14" height="13" fill="#0a0a0a"/>
<rect x="87.8" y="512.6" width="19" height="3" fill="#3a3a3a"/>
<rect x="90.3" y="498.5" width="14" height="13" fill="#0a0a0a"/>
<rect x="87.8" y="533.2" width="19" height="3" fill="#3a3a3a"/>
<rect x="90.3" y="519.1" width="14" height="13" fill="#0a0a0a"/>
<rect x="87.8" y="553.8" width="19" height="3" fill="#3a3a3a"/>
<rect x="90.3" y="539.6999999999999" width="14" height="13" fill="#0a0a0a"/>
<rect x="87.8" y="574.4" width="19" height="3" fill="#3a3a3a"/>
<rect x="90.3" y="560.3" width="14" height="13" fill="#0a0a0a"/>
<rect x="87.8" y="595.0" width="19" height="3" fill="#3a3a3a"/>
<rect x="90.3" y="580.9" width="14" height="13" fill="#0a0a0a"/>
<rect x="107.8" y="478" width="1.6" height="118" fill="#b9d3de"/>
<rect x="479.9" y="213.3" width="20.3" height="210.0" fill="#2c2c2c"/>
<rect x="481.4" y="233.8" width="17.3" height="3" fill="#3a3a3a"/>
<rect x="483.04999999999995" y="219.8" width="14" height="13" fill="#0a0a0a"/>
<rect x="481.4" y="254.3" width="17.3" height="3" fill="#3a3a3a"/>
<rect x="483.04999999999995" y="240.3" width="14" height="13" fill="#0a0a0a"/>
<rect x="481.4" y="274.8" width="17.3" height="3" fill="#3a3a3a"/>
<rect x="483.04999999999995" y="260.8" width="14" height="13" fill="#0a0a0a"/>
<rect x="481.4" y="295.3" width="17.3" height="3" fill="#3a3a3a"/>
<rect x="483.04999999999995" y="281.3" width="14" height="13" fill="#0a0a0a"/>
<rect x="481.4" y="315.8" width="17.3" height="3" fill="#3a3a3a"/>
<rect x="483.04999999999995" y="301.8" width="14" height="13" fill="#0a0a0a"/>
<rect x="481.4" y="336.3" width="17.3" height="3" fill="#3a3a3a"/>
<rect x="483.04999999999995" y="322.3" width="14" height="13" fill="#0a0a0a"/>
<rect x="481.4" y="356.8" width="17.3" height="3" fill="#3a3a3a"/>
<rect x="483.04999999999995" y="342.8" width="14" height="13" fill="#0a0a0a"/>
<rect x="481.4" y="377.3" width="17.3" height="3" fill="#3a3a3a"/>
<rect x="483.04999999999995" y="363.3" width="14" height="13" fill="#0a0a0a"/>
<rect x="481.4" y="397.8" width="17.3" height="3" fill="#3a3a3a"/>
<rect x="483.04999999999995" y="383.8" width="14" height="13" fill="#0a0a0a"/>
<rect x="481.4" y="418.3" width="17.3" height="3" fill="#3a3a3a"/>
<rect x="483.04999999999995" y="404.3" width="14" height="13" fill="#0a0a0a"/>
<rect x="475" y="220" width="1.6" height="200" fill="#b9d3de"/>
<rect x="479.5" y="427" width="20.5" height="169.0" fill="#2c2c2c"/>
<rect x="481.0" y="447.5" width="17.5" height="3" fill="#3a3a3a"/>
<rect x="482.75" y="433.5" width="14" height="13" fill="#0a0a0a"/>
<rect x="481.0" y="468.0" width="17.5" height="3" fill="#3a3a3a"/>
<rect x="482.75" y="454.0" width="14" height="13" fill="#0a0a0a"/>
<rect x="481.0" y="488.5" width="17.5" height="3" fill="#3a3a3a"/>
<rect x="482.75" y="474.5" width="14" height="13" fill="#0a0a0a"/>
<rect x="481.0" y="509.0" width="17.5" height="3" fill="#3a3a3a"/>
<rect x="482.75" y="495.0" width="14" height="13" fill="#0a0a0a"/>
<rect x="481.0" y="529.5" width="17.5" height="3" fill="#3a3a3a"/>
<rect x="482.75" y="515.5" width="14" height="13" fill="#0a0a0a"/>
<rect x="481.0" y="550.0" width="17.5" height="3" fill="#3a3a3a"/>
<rect x="482.75" y="536.0" width="14" height="13" fill="#0a0a0a"/>
<rect x="481.0" y="570.5" width="17.5" height="3" fill="#3a3a3a"/>
<rect x="482.75" y="556.5" width="14" height="13" fill="#0a0a0a"/>
<rect x="481.0" y="591.0" width="17.5" height="3" fill="#3a3a3a"/>
<rect x="482.75" y="577.0" width="14" height="13" fill="#0a0a0a"/>
<rect x="475" y="432" width="1.6" height="160" fill="#b9d3de"/>
<text x="111" y="330.0" text-anchor="start" font-family="Liberation Serif" font-weight="bold" font-size="12.5" fill="#d3e3ea">5V</text>
<text x="111" y="350.2" text-anchor="start" font-family="Liberation Serif" font-weight="bold" font-size="12.5" fill="#d3e3ea">RESET</text>
<text x="111" y="370.4" text-anchor="start" font-family="Liberation Serif" font-weight="bold" font-size="12.5" fill="#d3e3ea">3.3V</text>
<text x="111" y="390.6" text-anchor="start" font-family="Liberation Serif" font-weight="bold" font-size="12.5" fill="#d3e3ea">5V</text>
<text x="111" y="410.8" text-anchor="start" font-family="Liberation Serif" font-weight="bold" font-size="12.5" fill="#d3e3ea">GND</text>
<text x="111" y="431.0" text-anchor="start" font-family="Liberation Serif" font-weight="bold" font-size="12.5" fill="#d3e3ea">GND</text>
<text x="111" y="451.2" text-anchor="start" font-family="Liberation Serif" font-weight="bold" font-size="12.5" fill="#d3e3ea">VIN</text>
<text x="111" y="489.0" text-anchor="start" font-family="Liberation Serif" font-weight="bold" font-size="12.5" fill="#d3e3ea">A0</text>
<text x="111" y="509.3" text-anchor="start" font-family="Liberation Serif" font-weight="bold" font-size="12.5" fill="#d3e3ea">A1</text>
<text x="111" y="529.6" text-anchor="start" font-family="Liberation Serif" font-weight="bold" font-size="12.5" fill="#d3e3ea">A2</text>
<text x="111" y="549.9" text-anchor="start" font-family="Liberation Serif" font-weight="bold" font-size="12.5" fill="#d3e3ea">A3</text>
<text x="111" y="570.2" text-anchor="start" font-family="Liberation Serif" font-weight="bold" font-size="12.5" fill="#d3e3ea">A4</text>
<text x="111" y="590.5" text-anchor="start" font-family="Liberation Serif" font-weight="bold" font-size="12.5" fill="#d3e3ea">A5</text>
<text x="144.5" y="384" font-family="Liberation Serif" font-weight="bold" font-size="16" fill="#d3e3ea" transform="rotate(90 144.5 384)" textLength="63" lengthAdjust="spacingAndGlyphs">POWER</text>
<text x="133.5" y="487.6" font-family="Liberation Serif" font-weight="bold" font-size="16" fill="#d3e3ea" transform="rotate(90 133.5 487.6)" textLength="95.4" lengthAdjust="spacingAndGlyphs">ANALOG IN</text>
<rect x="129.2" y="472" width="1.6" height="123" fill="#b9d3de"/>
<text x="181" y="474.5" text-anchor="end" font-family="Liberation Serif" font-weight="bold" font-size="12.5" fill="#d3e3ea">A0</text>
<text x="181" y="495.0" text-anchor="end" font-family="Liberation Serif" font-weight="bold" font-size="12.5" fill="#d3e3ea">A1</text>
<text x="181" y="515.5" text-anchor="end" font-family="Liberation Serif" font-weight="bold" font-size="12.5" fill="#d3e3ea">A2</text>
<text x="181" y="536.0" text-anchor="end" font-family="Liberation Serif" font-weight="bold" font-size="12.5" fill="#d3e3ea">A3</text>
<text x="181" y="556.5" text-anchor="end" font-family="Liberation Serif" font-weight="bold" font-size="12.5" fill="#d3e3ea">A4</text>
<text x="181" y="577.0" text-anchor="end" font-family="Liberation Serif" font-weight="bold" font-size="12.5" fill="#d3e3ea">A5</text>
<text x="181" y="597.5" text-anchor="end" font-family="Liberation Serif" font-weight="bold" font-size="12.5" fill="#d3e3ea">A6</text>
<text x="181" y="618.0" text-anchor="end" font-family="Liberation Serif" font-weight="bold" font-size="12.5" fill="#d3e3ea">A7</text>
<text x="368" y="257.2" text-anchor="end" font-family="Liberation Serif" font-weight="bold" font-size="12.5" fill="#d3e3ea">AREF</text>
<text x="368" y="277.57" text-anchor="end" font-family="Liberation Serif" font-weight="bold" font-size="12.5" fill="#d3e3ea">RESET</text>
<text x="368" y="297.94" text-anchor="end" font-family="Liberation Serif" font-weight="bold" font-size="12.5" fill="#d3e3ea">13</text>
<text x="368" y="318.31" text-anchor="end" font-family="Liberation Serif" font-weight="bold" font-size="12.5" fill="#d3e3ea">12</text>
<text x="368" y="338.68" text-anchor="end" font-family="Liberation Serif" font-weight="bold" font-size="12.5" fill="#d3e3ea">~11</text>
<text x="368" y="359.05" text-anchor="end" font-family="Liberation Serif" font-weight="bold" font-size="12.5" fill="#d3e3ea">~10</text>
<text x="368" y="379.41999999999996" text-anchor="end" font-family="Liberation Serif" font-weight="bold" font-size="12.5" fill="#d3e3ea"></text>
<text x="368" y="399.78999999999996" text-anchor="end" font-family="Liberation Serif" font-weight="bold" font-size="12.5" fill="#d3e3ea">8</text>
<text x="368" y="436.3" text-anchor="end" font-family="Liberation Serif" font-weight="bold" font-size="12.5" fill="#d3e3ea">7</text>
<text x="368" y="456.64" text-anchor="end" font-family="Liberation Serif" font-weight="bold" font-size="12.5" fill="#d3e3ea">~6</text>
<text x="368" y="476.98" text-anchor="end" font-family="Liberation Serif" font-weight="bold" font-size="12.5" fill="#d3e3ea">~5</text>
<text x="368" y="497.32" text-anchor="end" font-family="Liberation Serif" font-weight="bold" font-size="12.5" fill="#d3e3ea">4</text>
<text x="368" y="517.66" text-anchor="end" font-family="Liberation Serif" font-weight="bold" font-size="12.5" fill="#d3e3ea">~3</text>
<text x="368" y="538.0" text-anchor="end" font-family="Liberation Serif" font-weight="bold" font-size="12.5" fill="#d3e3ea">2</text>
<text x="368" y="558.34" text-anchor="end" font-family="Liberation Serif" font-weight="bold" font-size="12.5" fill="#d3e3ea">1</text>
<text x="368" y="578.6800000000001" text-anchor="end" font-family="Liberation Serif" font-weight="bold" font-size="12.5" fill="#d3e3ea">0</text>
<text x="471" y="235.3" text-anchor="end" font-family="Liberation Serif" font-weight="bold" font-size="12.5" fill="#d3e3ea">SCL</text>
<text x="471" y="255.67000000000002" text-anchor="end" font-family="Liberation Serif" font-weight="bold" font-size="12.5" fill="#d3e3ea">SDA</text>
<text x="471" y="276.04" text-anchor="end" font-family="Liberation Serif" font-weight="bold" font-size="12.5" fill="#d3e3ea">AREF</text>
<text x="471" y="296.41" text-anchor="end" font-family="Liberation Serif" font-weight="bold" font-size="12.5" fill="#d3e3ea">GND</text>
<text x="471" y="316.78000000000003" text-anchor="end" font-family="Liberation Serif" font-weight="bold" font-size="12.5" fill="#d3e3ea">13</text>
<text x="471" y="337.15000000000003" text-anchor="end" font-family="Liberation Serif" font-weight="bold" font-size="12.5" fill="#d3e3ea">12</text>
<text x="471" y="357.52" text-anchor="end" font-family="Liberation Serif" font-weight="bold" font-size="12.5" fill="#d3e3ea">~11</text>
<text x="471" y="377.89" text-anchor="end" font-family="Liberation Serif" font-weight="bold" font-size="12.5" fill="#d3e3ea">~10</text>
<text x="471" y="398.26" text-anchor="end" font-family="Liberation Serif" font-weight="bold" font-size="12.5" fill="#d3e3ea">~9</text>
<text x="471" y="418.63" text-anchor="end" font-family="Liberation Serif" font-weight="bold" font-size="12.5" fill="#d3e3ea">8</text>
<text x="471" y="471.8" text-anchor="end" font-family="Liberation Serif" font-weight="bold" font-size="12.5" fill="#d3e3ea">~6</text>
<text x="471" y="491.87" text-anchor="end" font-family="Liberation Serif" font-weight="bold" font-size="12.5" fill="#d3e3ea">~5</text>
<text x="471" y="511.94" text-anchor="end" font-family="Liberation Serif" font-weight="bold" font-size="12.5" fill="#d3e3ea">4</text>
<text x="471" y="532.01" text-anchor="end" font-family="Liberation Serif" font-weight="bold" font-size="12.5" fill="#d3e3ea">~3</text>
<text x="471" y="552.08" text-anchor="end" font-family="Liberation Serif" font-weight="bold" font-size="12.5" fill="#d3e3ea">2</text>
<text x="471" y="572.15" text-anchor="end" font-family="Liberation Serif" font-weight="bold" font-size="12.5" fill="#d3e3ea">TX&gt;1</text>
<text x="471" y="592.22" text-anchor="end" font-family="Liberation Serif" font-weight="bold" font-size="12.5" fill="#d3e3ea">RX&lt;0</text>
<text x="448.5" y="521" font-family="Liberation Serif" font-weight="bold" font-size="17" fill="#d3e3ea" transform="rotate(-90 448.5 521)" textLength="148" lengthAdjust="spacingAndGlyphs">DIGITAL PWM &lt;~&gt;</text>
<rect x="450.6" y="405" width="1.6" height="120" fill="#b9d3de"/>
<rect x="583" y="102" width="135.5" height="264" rx="27" fill="#161616"/>
<path d="M596.5,120 L694,120 Q696,120 696,122 L696,238 L690,246.3 L596.5,246.3 Q594.5,246.3 594.5,244.3 L594.5,122 Q594.5,120 596.5,120 Z" fill="#53b5e5"/>
<rect x="620.1999999999999" y="145.5" width="8.4" height="8.4" fill="#0c1a1e"/>
<rect x="620.1999999999999" y="163.70000000000002" width="8.4" height="8.4" fill="#0c1a1e"/>
<rect x="620.1999999999999" y="182.8" width="8.4" height="8.4" fill="#0c1a1e"/>
<rect x="620.1999999999999" y="202.10000000000002" width="8.4" height="8.4" fill="#0c1a1e"/>
<circle cx="624.4" cy="224.4" r="4.2" fill="#0c1a1e"/>
<rect x="620.4" y="123.5" width="8" height="9.5" fill="#3f9dcc"/>
<rect x="620.9" y="132" width="7" height="1.3" fill="#123040"/>
<rect x="638.3" y="145.5" width="8.4" height="8.4" fill="#0c1a1e"/>
<rect x="638.3" y="163.70000000000002" width="8.4" height="8.4" fill="#0c1a1e"/>
<rect x="638.3" y="182.8" width="8.4" height="8.4" fill="#0c1a1e"/>
<rect x="638.3" y="202.10000000000002" width="8.4" height="8.4" fill="#0c1a1e"/>
<circle cx="642.5" cy="224.4" r="4.2" fill="#0c1a1e"/>
<rect x="638.5" y="123.5" width="8" height="9.5" fill="#3f9dcc"/>
<rect x="639.0" y="132" width="7" height="1.3" fill="#123040"/>
<rect x="657.0999999999999" y="145.5" width="8.4" height="8.4" fill="#0c1a1e"/>
<rect x="657.0999999999999" y="163.70000000000002" width="8.4" height="8.4" fill="#0c1a1e"/>
<rect x="657.0999999999999" y="182.8" width="8.4" height="8.4" fill="#0c1a1e"/>
<rect x="657.0999999999999" y="202.10000000000002" width="8.4" height="8.4" fill="#0c1a1e"/>
<circle cx="661.3" cy="224.4" r="4.2" fill="#0c1a1e"/>
<rect x="657.3" y="123.5" width="8" height="9.5" fill="#3f9dcc"/>
<rect x="657.8" y="132" width="7" height="1.3" fill="#123040"/>
<rect x="597.5" y="163.9" width="14" height="8" fill="#0f2a2a"/>
<rect x="675" y="163.9" width="15" height="8" fill="#0f2a2a"/>
<rect x="597.5" y="183.0" width="14" height="8" fill="#0f2a2a"/>
<rect x="675" y="183.0" width="15" height="8" fill="#0f2a2a"/>
<rect x="597.5" y="220.4" width="14" height="8" fill="#0f2a2a"/>
<rect x="675" y="220.4" width="15" height="8" fill="#0f2a2a"/>
<path d="M611,240 L611,258 L691.5,258 L691.5,240 M632,240 L632,258" fill="none" stroke="#d0d0d0" stroke-width="1.6"/>
<rect x="615.5" y="244" width="13" height="12.5" fill="#dcdcdc"/>
<circle cx="622" cy="249.5" r="4.8" fill="#6a6a6a"/>
<circle cx="641.6" cy="250.5" r="6.3" fill="#dcdcdc"/>
<circle cx="641.6" cy="250" r="4.5" fill="#5a5a5a"/>
<circle cx="661" cy="250.5" r="6.3" fill="#dcdcdc"/>
<circle cx="661" cy="250" r="4.5" fill="#5a5a5a"/>
<circle cx="680.6" cy="250.5" r="6.3" fill="#dcdcdc"/>
<circle cx="680.6" cy="250" r="4.5" fill="#5a5a5a"/>
<circle cx="613.3" cy="287.2" r="18.5" fill="#b5b5b2"/>
<circle cx="613.3" cy="287.2" r="12.8" fill="#fff"/>
<circle cx="689.5" cy="287.2" r="18.5" fill="#b5b5b2"/>
<circle cx="689.5" cy="287.2" r="12.8" fill="#fff"/>
<path d="M651,259 L651,270 M655,259 L655,270 M648,304 L648,330 M654,304 L654,330" stroke="#0c0c0c" stroke-width="1.5" fill="none"/>
<circle cx="651" cy="286.5" r="13.2" fill="#161616" stroke="#d8d8d8" stroke-width="2.2"/>
<path d="M647.2,279 a2.3,2.3 0 0 1 4.6,0 L651.8,288.5 a4.5,4.5 0 1 1 -4.6,0 Z" fill="#d8d8d8"/>
<path d="M656.6,284.2 Q659.2,288 659.2,289.6 a2.6,2.6 0 0 1 -5.2,0 Q654,288 656.6,284.2 Z" fill="#d8d8d8"/>
<text x="632" y="338.5" text-anchor="middle" font-family="Liberation Sans" font-size="13" fill="#ddd">S</text>
<text x="651" y="338.5" text-anchor="middle" font-family="Liberation Sans" font-size="13" fill="#ddd">V</text>
<text x="670" y="338.5" text-anchor="middle" font-family="Liberation Sans" font-size="13" fill="#ddd">G</text>
<text x="678.8" y="323.5" font-family="Liberation Sans" font-size="11.5" fill="#ddd" stroke="#ddd" stroke-width="0.3" textLength="32.3" lengthAdjust="spacingAndGlyphs">Power</text>
<rect x="685.4" y="326.4" width="10.3" height="24" rx="1.5" fill="none" stroke="#c8c8c8" stroke-width="1.6"/>
<rect x="699.2" y="326.4" width="9.6" height="21.5" rx="1.5" fill="none" stroke="#c8c8c8" stroke-width="1.6"/>
<rect x="687" y="330" width="7" height="17" fill="#d9d4c0"/>
<rect x="688" y="334" width="5" height="8" fill="#f2ecd8"/>
<rect x="700.5" y="329" width="7" height="17" fill="#3a3a3a"/>
<rect x="700.5" y="329" width="7" height="3" fill="#b8b8b8"/>
<rect x="700.5" y="343" width="7" height="3" fill="#b8b8b8"/>
<circle cx="604.8" cy="345.8" r="10" fill="none" stroke="#ddd" stroke-width="2"/>
<text x="604.8" y="350.5" text-anchor="middle" font-family="Liberation Sans" font-size="12" fill="#ddd">D</text>
<rect x="621" y="341" width="61" height="21.5" fill="none" stroke="#bbb" stroke-width="1"/>
<rect x="622" y="342" width="56" height="19" fill="#262626"/>
<rect x="625.6" y="350" width="4.8" height="31" rx="2" fill="#bdbdbd"/>
<rect x="644.8000000000001" y="350" width="4.8" height="31" rx="2" fill="#bdbdbd"/>
<rect x="663.5" y="350" width="4.8" height="31" rx="2" fill="#bdbdbd"/>
<defs><filter id="glow" x="-30%" y="-60%" width="160%" height="220%"><feGaussianBlur stdDeviation="2.2"/></filter><clipPath id="pcbclip"><polygon points="78,87 508,87 508,609 404,609 385,629 124,629 105,610 78,610"/></clipPath></defs>
<path d="M403.8,386 L403.8,441 Q403.8,446 408.8,446 L641.6,446 Q646.6,446 646.6,441 L646.6,407" fill="none" stroke="#ffffff" stroke-width="18" stroke-linejoin="round" filter="url(#glow)" clip-path="url(#pcbclip)"/>
<path d="M403.8,386 L403.8,441 Q403.8,446 408.8,446 L641.6,446 Q646.6,446 646.6,441 L646.6,407" fill="none" stroke="#ffffff" stroke-width="13" stroke-linejoin="round" clip-path="url(#pcbclip)"/>
<path d="M403.8,386 L403.8,441 Q403.8,446 408.8,446 L641.6,446 Q646.6,446 646.6,441 L646.6,407" fill="none" stroke="#ff5500" stroke-width="8.5" stroke-linejoin="round"/>
<rect x="340.9" y="358.2" width="97.40000000000003" height="30.80000000000001" rx="7" fill="#fff" filter="url(#glow)"/>
<rect x="342.4" y="359.7" width="94.40000000000003" height="27.80000000000001" rx="5" fill="#fff"/>
<rect x="343.9" y="361.2" width="91.40000000000003" height="24.80000000000001" rx="4" fill="#555555"/>
<text x="348.5" y="380.0" font-family="Liberation Sans" font-weight="bold" font-size="16.5" fill="#fff" textLength="18.5" lengthAdjust="spacingAndGlyphs">~9</text>
<circle cx="379.9" cy="373.8" r="10.5" fill="#ffc400"/>
<circle cx="401.6" cy="373.8" r="10.5" fill="#ee0c0c"/>
<circle cx="423.3" cy="373.8" r="10.5" fill="#000"/>
<rect x="586.5" y="383.2" width="92.5" height="24.400000000000034" rx="4" fill="#555555"/>
<text x="588.9" y="403.40000000000003" font-family="Liberation Sans" font-weight="bold" font-size="21" fill="#fff" textLength="22.7" lengthAdjust="spacingAndGlyphs">~9</text>
<circle cx="626" cy="395.6" r="10" fill="#ffc400"/>
<circle cx="646.4" cy="395.6" r="10" fill="#ee0c0c"/>
<circle cx="667" cy="395.6" r="10" fill="#000"/>
</svg>
<div style="position:absolute;left:174px;top:651px;font-size:33px;line-height:37px;color:#363a45;font-weight:700;white-space:nowrap">UNO R3<span style="font-weight:500;-webkit-text-stroke:0.7px #363a45;margin-left:3.5px;letter-spacing:1.2px">开发板</span></div>
<div class="tbl">
  <div class="c hd" style="left:0;top:0;width:590px;height:98px;background:#ff5500;font-size:42px;letter-spacing:1.9px;padding-left:2px;padding-top:3px;box-sizing:border-box;-webkit-text-stroke:0.9px #fff;">温湿度传感器模块</div>
  <div class="c hd sh" style="left:0;top:98px;width:200.5px;height:80px;background:#000080;font-size:29px;letter-spacing:2px;padding-left:2px;">模块引脚</div>
  <div class="c hd sh" style="left:200.5px;top:98px;width:98px;height:80px;background:#222222;font-size:29px;letter-spacing:2px;padding-left:2px;">接线</div>
  <div class="c hd sh" style="left:298.5px;top:98px;width:291.5px;height:80px;background:#467a00;font-size:29px;letter-spacing:2px;padding-left:2px;">扩展板引脚</div>
  <div class="c" style="left:0;top:178px;width:200.5px;height:296px;background:#bfbfff;"></div>
  <div class="c" style="left:200.5px;top:178px;width:98px;height:296px;background:#a6a6a6;"></div>
  <div class="c" style="left:298.5px;top:178px;width:291.5px;height:296px;background:#e3ffca;"></div>
  <svg width="590" height="474" style="position:absolute;left:0;top:0">
    <g font-family="Liberation Sans" font-weight="bold" font-size="32" fill="#363a45" text-anchor="middle">
      <text x="100" y="240">G</text><text x="100" y="338">V</text><text x="100" y="437">S</text>
      <text x="379" y="240">~9</text><text x="379" y="338">~9</text><text x="379" y="437">~9</text>
      <text x="524" y="240">G</text><text x="524" y="338">V</text><text x="524" y="437">S</text>
    </g>
    <g stroke-width="7.8">
      <line x1="175.75" y1="229" x2="322.25" y2="229" stroke="#000"/>
      <circle cx="175.75" cy="229" r="12" fill="#000"/><circle cx="322.25" cy="229" r="12" fill="#000"/>
      <line x1="175.75" y1="327" x2="322.25" y2="327" stroke="#ee0c0c"/>
      <circle cx="175.75" cy="327" r="12" fill="#ee0c0c"/><circle cx="322.25" cy="327" r="12" fill="#ee0c0c"/>
      <line x1="175.75" y1="426" x2="322.25" y2="426" stroke="#ffc400"/>
      <circle cx="175.75" cy="426" r="12" fill="#ffc400"/><circle cx="322.25" cy="426" r="12" fill="#ffc400"/>
    </g>
  </svg>
</div>
</body></html>
